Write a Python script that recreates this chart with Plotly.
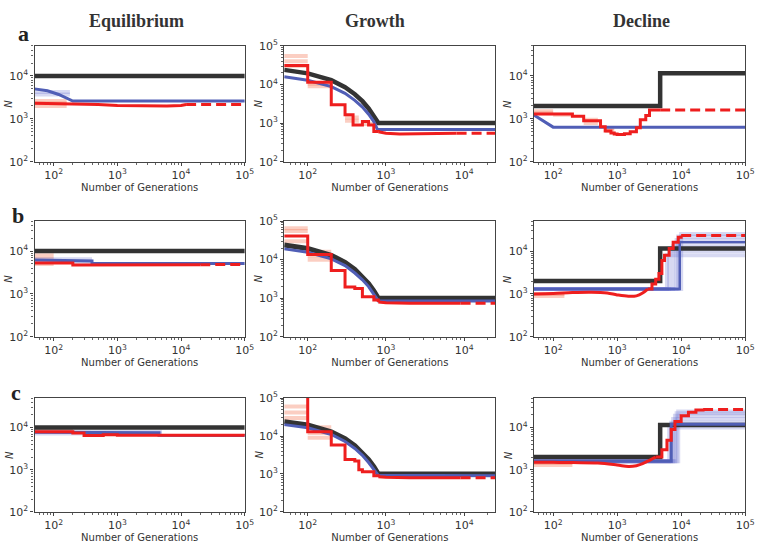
import plotly.graph_objects as go
from plotly.subplots import make_subplots

# x: generations before present, y: effective population size N

# ---- True histories (black) ----
eq_true_x = [50, 100000]
eq_true_n = [10000, 10000]
growth_true_x = [50, 100, 200, 300, 400, 500, 600, 700, 800, 25000]
growth_true_n = [24000, 19500, 13000, 8500, 5600, 3700, 2400, 1550, 1000, 1000]
decline_true_x = [50, 4700, 4700, 100000]
decline_true_n = [2000, 2000, 11500, 11500]

# ---- Row a ----
a_eq_blue_x = [50, 80, 120, 200, 100000]
a_eq_blue_n = [5000, 4500, 3700, 2600, 2600]
a_eq_blue_boot = [(50, 180, 3700), (50, 180, 4200)]
a_eq_red_x = [50, 200, 500, 1000, 3000, 6000, 10000, 12000]
a_eq_red_n = [2300, 2250, 2150, 2050, 2000, 1980, 2050, 2150]
a_eq_red_tail_x = [12000, 100000]
a_eq_red_tail_n = [2150, 2150]
a_eq_red_boot = [(50, 160, 2000), (50, 160, 2300), (50, 160, 2600)]

a_gr_blue_x = [50, 100, 200, 300, 400, 500, 600, 700, 780, 25000]
a_gr_blue_n = [16000, 12900, 8800, 5900, 3900, 2600, 1700, 1100, 680, 680]
a_gr_red_step_x = [50, 100, 200, 300, 380, 500, 600, 700, 800]
a_gr_red_step_n = [31000, 11500, 3000, 1650, 900, 1100, 900, 610, 600]
a_gr_red_x = [800, 1000, 1500, 3000, 6000, 8000]
a_gr_red_n = [600, 550, 520, 530, 545, 545]
a_gr_red_tail_x = [8000, 25000]
a_gr_red_tail_n = [545, 545]
a_gr_red_boot = [(50, 100, 30000), (50, 100, 40000), (50, 100, 55000),
                 (100, 200, 9000), (100, 200, 10500),
                 (300, 450, 1150), (300, 450, 1400), (500, 700, 950)]

a_de_blue_x = [50, 100, 100000]
a_de_blue_n = [1230, 640, 640]
a_de_red_step_x = [50, 200, 300, 550, 650, 800, 900, 1000, 1300, 1600, 2000, 2300, 2800, 3200, 4700]
a_de_red_step_n = [1300, 1150, 900, 650, 520, 470, 440, 430, 450, 500, 620, 950, 1200, 1600, 1600]
a_de_red_tail_x = [4700, 100000]
a_de_red_tail_n = [1600, 1600]
a_de_red_boot = [(50, 100, 1350), (50, 100, 1500), (100, 200, 1250),
                 (300, 500, 800), (300, 500, 950), (650, 900, 520), (650, 900, 600)]

# ---- Row b ----
b_eq_blue_x = [50, 400, 400, 100000]
b_eq_blue_n = [6200, 5900, 5100, 5100]
b_eq_blue_boot = [(50, 400, 5600), (50, 400, 6400)]
b_eq_red_x = [50, 200, 200, 1000, 5000, 20000]
b_eq_red_n = [5300, 5300, 4700, 4700, 4650, 4800]
b_eq_red_tail_x = [20000, 100000]
b_eq_red_tail_n = [4800, 4900]
b_eq_red_boot = [(50, 100, 5000), (50, 100, 6500), (50, 100, 8000)]

b_gr_blue_x = [50, 100, 200, 300, 400, 500, 600, 700, 800, 25000]
b_gr_blue_n = [19000, 15500, 10500, 7000, 4500, 3000, 2000, 1300, 850, 850]
b_gr_red_step_x = [50, 100, 200, 300, 400, 500, 700, 800]
b_gr_red_step_n = [41000, 13500, 5200, 1950, 1800, 1100, 900, 800]
b_gr_red_x = [800, 1000, 2000, 5000, 9000]
b_gr_red_n = [800, 760, 740, 740, 740]
b_gr_red_tail_x = [9000, 25000]
b_gr_red_tail_n = [740, 740]
b_gr_red_boot = [(50, 100, 30000), (50, 100, 55000), (50, 100, 65000),
                 (100, 200, 10000), (100, 200, 12500), (100, 200, 16000)]

b_de_blue_x = [50, 9500, 9500, 100000]
b_de_blue_n = [1300, 1300, 16000, 16000]
b_de_blue_boot_base = 1300
b_de_blue_boot_t = [6000, 6500, 7500, 8500, 9000, 10000]
b_de_blue_boot_n = [8000, 10000, 13000, 18000, 22000, 25000]
b_de_red_x = [50, 100, 200, 400, 700, 1000, 1500, 2000, 2500, 3000]
b_de_red_n = [1000, 1020, 1080, 1100, 1050, 950, 880, 900, 1050, 1300]
b_de_red_step_x = [3000, 3500, 4000, 4500, 5000, 5500, 6500, 7500, 9000, 10000]
b_de_red_step_n = [1300, 1700, 2200, 3000, 6000, 8000, 11500, 16000, 21000, 23000]
b_de_red_tail_x = [10000, 100000]
b_de_red_tail_n = [23000, 23000]
b_de_red_boot = [(50, 150, 900), (50, 150, 1000)]

# ---- Row c ----
c_eq_blue_x = [50, 4500, 4500, 100000]
c_eq_blue_n = [7800, 7600, 6600, 6500]
c_eq_blue_boot = [(50, 5000, 7200), (50, 5000, 8000)]
c_eq_red_step_x = [50, 200, 300, 600, 1000, 100000]
c_eq_red_step_n = [8000, 7500, 6500, 6800, 6600, 6500]
c_eq_red_boot = [(50, 200, 9000), (50, 200, 9800)]

c_gr_blue_x = [50, 100, 200, 300, 400, 500, 600, 700, 800, 25000]
c_gr_blue_n = [20000, 16500, 11000, 7200, 4700, 3100, 2000, 1300, 920, 900]
c_gr_red_step_x = [50, 100, 200, 300, 400, 450, 500, 700, 800]
c_gr_red_step_n = [200000, 13000, 5800, 2400, 2200, 1300, 1150, 900, 850]
c_gr_red_x = [800, 1000, 2000, 5000, 9000]
c_gr_red_n = [850, 820, 800, 800, 800]
c_gr_red_tail_x = [9000, 25000]
c_gr_red_tail_n = [800, 800]
c_gr_red_boot = [(50, 100, 30000), (50, 100, 42000), (50, 100, 60000),
                 (100, 200, 9000), (100, 200, 12000), (100, 200, 17000)]

c_de_blue_x = [50, 7000, 7000, 100000]
c_de_blue_n = [1600, 1600, 12000, 12000]
c_de_blue_boot_base = 1600
c_de_blue_boot_t = [6500, 7000, 7500, 8000, 8500, 9000]
c_de_blue_boot_n = [10000, 13000, 16000, 19000, 22000, 24000]
c_de_red_x = [50, 100, 200, 500, 1000, 1500, 2000, 2500, 3000, 4000]
c_de_red_n = [1500, 1500, 1480, 1450, 1300, 1200, 1250, 1400, 1600, 2000]
c_de_red_step_x = [4000, 5000, 6000, 7000, 8000, 10000, 13000, 17000, 22000]
c_de_red_step_n = [2000, 3000, 5000, 9000, 14000, 19000, 23000, 26000, 27000]
c_de_red_tail_x = [22000, 100000]
c_de_red_tail_n = [27000, 27000]
c_de_red_boot = [(50, 200, 1300), (50, 200, 1450)]

col_titles = ["Equilibrium", "Growth", "Decline"]
row_letters = ["a", "b", "c"]
x_tick_vals = [100, 1000, 10000, 100000]
x_tick_text = ["10<sup>2</sup>", "10<sup>3</sup>", "10<sup>4</sup>", "10<sup>5</sup>"]
y_tick_vals = [100, 1000, 10000, 100000]
y_tick_text = ["10<sup>2</sup>", "10<sup>3</sup>", "10<sup>4</sup>", "10<sup>5</sup>"]

BLACK = '#333333'
BLUE = 'rgb(80,94,182)'
RED = 'rgb(238,30,30)'
LBLUE = 'rgba(95,105,205,0.25)'
LRED = 'rgba(245,125,95,0.38)'
DASH = '10px,5px'

fig = make_subplots(rows=3, cols=3)


def add(x, y, r, c, color, width, dash='solid', shape='linear'):
    fig.add_trace(go.Scatter(x=x, y=y, mode='lines',
                             line=dict(color=color, width=width, dash=dash, shape=shape),
                             showlegend=False, hoverinfo='skip'), row=r, col=c)


def add_boot(segs, r, c, color):
    for x0, x1, n in segs:
        add([x0, x1], [n, n], r, c, color, 4)


def add_boot_steps(base, ts, ns, r, c):
    for t, n in zip(ts, ns):
        add([50, t, 100000], [base, n, n], r, c, LBLUE, 4, shape='hv')


# Row a
add_boot(a_eq_red_boot, 1, 1, LRED)
add_boot(a_eq_blue_boot, 1, 1, LBLUE)
add(eq_true_x, eq_true_n, 1, 1, BLACK, 4.5)
add(a_eq_blue_x, a_eq_blue_n, 1, 1, BLUE, 3)
add(a_eq_red_x, a_eq_red_n, 1, 1, RED, 3)
add(a_eq_red_tail_x, a_eq_red_tail_n, 1, 1, RED, 3, dash=DASH)

add_boot(a_gr_red_boot, 1, 2, LRED)
add(growth_true_x, growth_true_n, 1, 2, BLACK, 4.5)
add(a_gr_blue_x, a_gr_blue_n, 1, 2, BLUE, 3)
add(a_gr_red_step_x, a_gr_red_step_n, 1, 2, RED, 3, shape='hv')
add(a_gr_red_x, a_gr_red_n, 1, 2, RED, 3)
add(a_gr_red_tail_x, a_gr_red_tail_n, 1, 2, RED, 3, dash=DASH)

add_boot(a_de_red_boot, 1, 3, LRED)
add(decline_true_x, decline_true_n, 1, 3, BLACK, 4.5)
add(a_de_blue_x, a_de_blue_n, 1, 3, BLUE, 3)
add(a_de_red_step_x, a_de_red_step_n, 1, 3, RED, 3, shape='hv')
add(a_de_red_tail_x, a_de_red_tail_n, 1, 3, RED, 3, dash=DASH)

# Row b
add_boot(b_eq_red_boot, 2, 1, LRED)
add_boot(b_eq_blue_boot, 2, 1, LBLUE)
add(eq_true_x, eq_true_n, 2, 1, BLACK, 4.5)
add(b_eq_blue_x, b_eq_blue_n, 2, 1, BLUE, 3)
add(b_eq_red_x, b_eq_red_n, 2, 1, RED, 3)
add(b_eq_red_tail_x, b_eq_red_tail_n, 2, 1, RED, 3, dash=DASH)

add_boot(b_gr_red_boot, 2, 2, LRED)
add(growth_true_x, growth_true_n, 2, 2, BLACK, 5)
add(b_gr_blue_x, b_gr_blue_n, 2, 2, BLUE, 3)
add(b_gr_red_step_x, b_gr_red_step_n, 2, 2, RED, 3, shape='hv')
add(b_gr_red_x, b_gr_red_n, 2, 2, RED, 3)
add(b_gr_red_tail_x, b_gr_red_tail_n, 2, 2, RED, 3, dash=DASH)

add_boot_steps(b_de_blue_boot_base, b_de_blue_boot_t, b_de_blue_boot_n, 2, 3)
add_boot(b_de_red_boot, 2, 3, LRED)
add(decline_true_x, decline_true_n, 2, 3, BLACK, 4.5)
add(b_de_blue_x, b_de_blue_n, 2, 3, BLUE, 2.5)
add(b_de_red_x, b_de_red_n, 2, 3, RED, 3, shape='spline')
add(b_de_red_step_x, b_de_red_step_n, 2, 3, RED, 3, shape='hv')
add(b_de_red_tail_x, b_de_red_tail_n, 2, 3, RED, 3, dash=DASH)

# Row c
add_boot(c_eq_red_boot, 3, 1, LRED)
add_boot(c_eq_blue_boot, 3, 1, LBLUE)
add(eq_true_x, eq_true_n, 3, 1, BLACK, 4.5)
add(c_eq_blue_x, c_eq_blue_n, 3, 1, BLUE, 3)
add(c_eq_red_step_x, c_eq_red_step_n, 3, 1, RED, 3, shape='hv')

add_boot(c_gr_red_boot, 3, 2, LRED)
add(growth_true_x, growth_true_n, 3, 2, BLACK, 5)
add(c_gr_blue_x, c_gr_blue_n, 3, 2, BLUE, 3)
add(c_gr_red_step_x, c_gr_red_step_n, 3, 2, RED, 3, shape='hv')
add(c_gr_red_x, c_gr_red_n, 3, 2, RED, 3)
add(c_gr_red_tail_x, c_gr_red_tail_n, 3, 2, RED, 3, dash=DASH)

add_boot_steps(c_de_blue_boot_base, c_de_blue_boot_t, c_de_blue_boot_n, 3, 3)
add_boot(c_de_red_boot, 3, 3, LRED)
add(decline_true_x, decline_true_n, 3, 3, BLACK, 4.5)
add(c_de_blue_x, c_de_blue_n, 3, 3, BLUE, 3)
add(c_de_red_x, c_de_red_n, 3, 3, RED, 3, shape='spline')
add(c_de_red_step_x, c_de_red_step_n, 3, 3, RED, 3, shape='hv')
add(c_de_red_tail_x, c_de_red_tail_n, 3, 3, RED, 3, dash=DASH)

W, H = 767, 552
col_px = [(35, 248), (288, 502), (541, 755)]
row_px = [(39, 158), (219, 338), (401, 518)]

minor_vals = [m * 10 ** k for k in range(1, 6) for m in range(2, 10)]

for r in range(3):
    for c in range(3):
        idx = r * 3 + c + 1
        xa = 'xaxis' if idx == 1 else f'xaxis{idx}'
        ya = 'yaxis' if idx == 1 else f'yaxis{idx}'
        x0, x1 = col_px[c]
        y0, y1 = row_px[r]
        growth = (c == 1)
        common = dict(type='log', showline=True, mirror=True, linecolor='#444444', linewidth=1.3,
                      ticks='outside', ticklen=3, tickcolor='#444444', showgrid=False, zeroline=False,
                      tickfont=dict(family='DejaVu Sans', size=11, color='#333333'),
                      minor=dict(ticks='outside', ticklen=2, tickcolor='#666666', tickvals=minor_vals,
                                 showgrid=False))
        fig.layout[xa].update(domain=[x0 / W, x1 / W],
                              range=[1.7, 4.4] if growth else [1.7, 5.0],
                              tickvals=x_tick_vals, ticktext=x_tick_text,
                              title=dict(text='Number of Generations', standoff=1,
                                         font=dict(family='DejaVu Sans', size=10, color='#333333')),
                              **common)
        fig.layout[ya].update(domain=[1 - y1 / H, 1 - y0 / H],
                              range=[2, 5.0] if growth else [2, 4.7],
                              tickvals=y_tick_vals, ticktext=y_tick_text,
                              **common)

annotations = []
title_x = [138, 380, 650]
for t, xc in zip(col_titles, title_x):
    annotations.append(dict(text=f'<b>{t}</b>', x=xc / W, y=1 - 13 / H, xref='paper', yref='paper',
                            showarrow=False, font=dict(family='Liberation Serif', size=18, color='#333333'),
                            xanchor='center', yanchor='middle'))
letter_pos = [(24, 26), (18, 213), (16, 395)]
for L, (lx, ly) in zip(row_letters, letter_pos):
    annotations.append(dict(text=f'<b>{L}</b>', x=lx / W, y=1 - ly / H, xref='paper', yref='paper',
                            showarrow=False, font=dict(family='Liberation Serif', size=22, color='#222222'),
                            xanchor='center', yanchor='middle'))
for r in range(3):
    for c in range(3):
        y0, y1 = row_px[r]
        x0 = col_px[c][0]
        annotations.append(dict(text='<i>N</i>', x=(x0 - 26) / W, y=1 - ((y0 + y1) / 2) / H,
                                xref='paper', yref='paper', showarrow=False, textangle=-90,
                                font=dict(family='DejaVu Sans', size=10, color='#333333'),
                                xanchor='center', yanchor='middle'))

fig.update_layout(width=W, height=H, margin=dict(l=0, r=0, t=0, b=0),
                  paper_bgcolor='white', plot_bgcolor='white', showlegend=False,
                  annotations=annotations)

fig.write_html("out.html", config={'displayModeBar': False},
               post_script="document.body.style.margin='0';document.body.style.overflow='hidden';")
